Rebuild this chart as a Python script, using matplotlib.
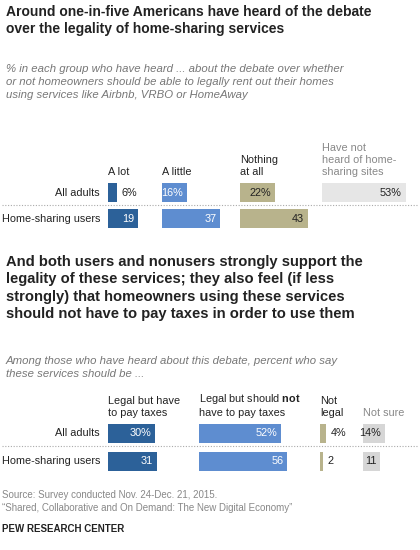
import matplotlib
matplotlib.use("Agg")
import matplotlib.pyplot as plt
from matplotlib.patches import Rectangle

rows = ["All adults", "Home-sharing users"]
heard_cats = ["A lot", "A little", "Nothing\nat all", "Have not\nheard of home-\nsharing sites"]
heard_vals = [[6, 16, 22, 53], [19, 37, 43, None]]
legal_cats = ["Legal but have\nto pay taxes", "Legal but should $\\bf{not}$\nhave to pay taxes", "Not\nlegal", "Not sure"]
legal_vals = [[30, 52, 4, 14], [31, 56, 2, 11]]

C_DARK, C_LIGHT, C_TAN, C_GREY, C_GREY2 = "#2c6199", "#5e8dd0", "#b8b38c", "#e6e6e6", "#d6d6d6"
TXT = "#222222"
plt.rcParams["mathtext.fontset"] = "custom"
plt.rcParams["mathtext.bf"] = "Liberation Sans:bold"

fig = plt.figure(figsize=(4.2, 5.5), dpi=100)
ax = fig.add_axes([0, 0, 1, 1])
ax.set_xlim(0, 420); ax.set_ylim(550, 0); ax.axis("off")
F = ["Liberation Sans", "DejaVu Sans"]
S = 1.58  # px per percent

def t(x, y, s, **kw):
    kw.setdefault("fontsize", 7.8); kw.setdefault("color", TXT); kw.setdefault("va", "top")
    ax.text(x, y, s, family=F, **kw)

t(6, 5, "Around one-in-five Americans have heard of the debate\nover the legality of home-sharing services", fontsize=10, weight="bold", linespacing=1.3)
t(6, 64, "% in each group who have heard ... about the debate over whether\nor not homeowners should be able to legally rent out their homes\nusing services like Airbnb, VRBO or HomeAway",
  fontsize=8.2, style="italic", color="#777777", linespacing=1.4)

def block(cats, vals, starts, colors, tcols, hdr_bottom, y0, gap, cat_colors):
    for c, x, cc in zip(cats, starts, cat_colors):
        t(x, hdr_bottom, c, va="bottom", color=cc, linespacing=1.25)
    for r, (name, vs) in enumerate(zip(rows, vals)):
        y = y0 + r * gap
        t(100, y + 9.5, name, ha="right", va="center")
        for j, v in enumerate(vs):
            if v is None:
                continue
            w = v * S
            ax.add_patch(Rectangle((starts[j], y), w, 19, color=colors[j], lw=0))
            lab = f"{v}%" if r == 0 else f"{v}"
            if v >= 10:
                t(starts[j] + w - 4, y + 9.5, lab, ha="right", va="center", color=tcols[j])
            else:
                t(starts[j] + w + 4, y + 9.5, lab, ha="left", va="center")
    ax.plot([2, 418], [y0 + 21.5, y0 + 21.5], ls=(0, (1, 1.5)), color="#aaaaaa", lw=0.8)

block(heard_cats, heard_vals, [108, 162, 240, 322], [C_DARK, C_LIGHT, C_TAN, C_GREY],
      ["white", "white", TXT, TXT], 177, 183, 26, [TXT, TXT, TXT, "#888888"])

t(6, 255, "And both users and nonusers strongly support the\nlegality of these services; they also feel (if less\nstrongly) that homeowners using these services\nshould not have to pay taxes in order to use them",
  fontsize=10.6, weight="bold", linespacing=1.3)
t(6, 356, "Among those who have heard about this debate, percent who say\nthese services should be ...", fontsize=8.2, style="italic", color="#777777", linespacing=1.4)

block(legal_cats, legal_vals, [108, 199, 320, 363], [C_DARK, C_LIGHT, C_TAN, C_GREY2],
      ["white", "white", TXT, TXT], 418, 424, 28, [TXT, TXT, TXT, "#888888"])

t(2, 490, "Source: Survey conducted Nov. 24-Dec. 21, 2015.\n\u201cShared, Collaborative and On Demand: The New Digital Economy\u201d",
  fontsize=7, color="#888888", linespacing=1.4)
t(2, 524, "PEW RESEARCH CENTER", fontsize=7, weight="bold")

fig.savefig("out.png", dpi=100)
